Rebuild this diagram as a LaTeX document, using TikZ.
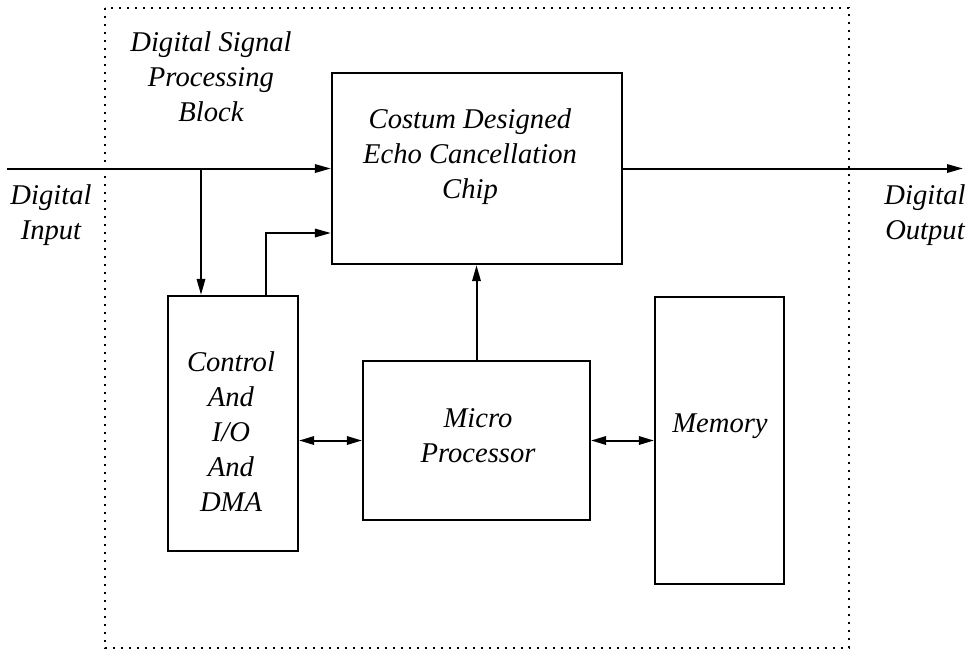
\documentclass[tikz,border=0pt]{standalone}
\usepackage{fontspec}
\setmainfont{Liberation Serif}
\usetikzlibrary{arrows.meta,calc}

\tikzset{
    blk/.style = {draw, line width=1.1pt, inner sep=0pt},
    lbl/.style = {font=\itshape\fontsize{14.3pt}{17.5pt}\selectfont, align=center, inner sep=0pt},
    arr/.style = {line width=1pt, -{Triangle[length=8pt,width=4.2pt]}},
    darr/.style = {line width=1pt, {Triangle[length=7.5pt,width=4.2pt]}-{Triangle[length=7.5pt,width=4.2pt]}}
}

\begin{document}
\begin{tikzpicture}[x=0.5pt, y=-0.5pt]
    \useasboundingbox (0,0) rectangle (971,650);
    % Dotted frame of the block
    \draw[line width=1.1pt, dash pattern=on 1.1pt off 2.9pt] (105,8) rectangle (849,648);
    \node[lbl] (title) at (211,76.4) {Digital Signal\\Processing\\Block};

    % Boxes
    \node[blk, minimum width=145pt, minimum height=95.5pt] (chip) at (477,168.5) {};
    \node[blk, minimum width=65pt, minimum height=127.5pt] (ctrl) at (233,423.5) {};
    \node[blk, minimum width=113.5pt, minimum height=79.5pt] (micro) at (476.5,440.5) {};
    \node[blk, minimum width=64.5pt, minimum height=143.5pt] (mem) at (719.5,440.5) {};

    % Box texts
    \node[lbl] (chiptxt) at (470,156.4) {Costum Designed\\Echo Cancellation\\Chip};
    \node[lbl] (ctrltxt) at (231,431.4) {Control\\And\\I/O\\And\\DMA};
    \node[lbl] (microtxt) at (478,436) {Micro\\Processor};
    \node[lbl, anchor=base] (memtxt) at (720,432) {Memory};

    % Input and output
    \coordinate (in) at (7,168.5);
    \coordinate (out) at (963,168.5);
    \node[lbl] (inlbl) at (51,215.4) {Digital\\Input};
    \node[lbl] (outlbl) at (925,215.4) {Digital\\Output};
    \draw[arr] (in) -- (chip.west);
    \draw[arr] (chip.east) -- (out);

    % Tap down to the control block
    \coordinate (tap) at (201,168.5);
    \draw[arr] (tap) -- (tap |- ctrl.north);
    % Control block up to the chip
    \coordinate (bend) at (266,233);
    \draw[arr] (bend |- ctrl.north) -- (bend) -- (bend -| chip.west);

    % Processor links
    \draw[arr] (micro.north) -- (micro.north |- chip.south);
    \draw[darr] (micro.west -| ctrl.east) -- (micro.west);
    \draw[darr] (micro.east) -- (mem.west);
\end{tikzpicture}
\end{document}
